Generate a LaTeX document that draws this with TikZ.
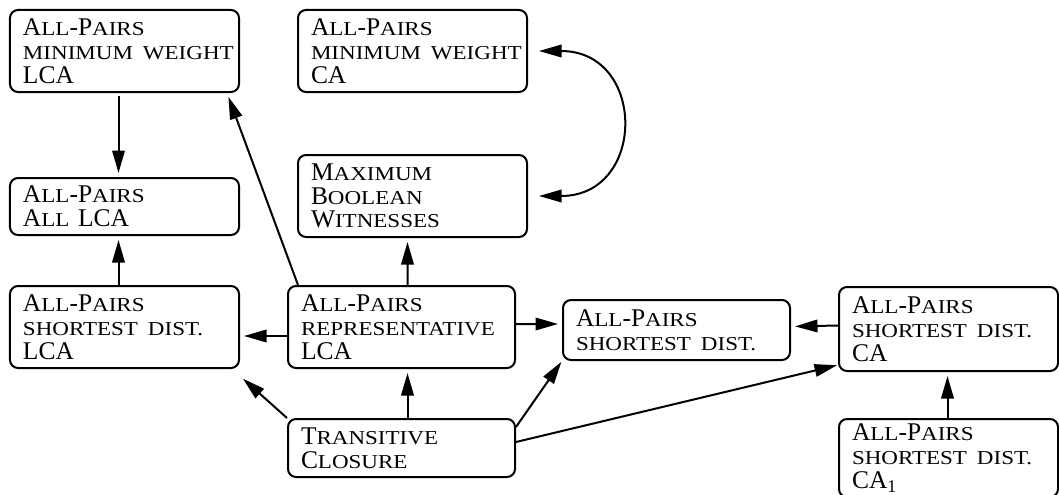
\documentclass[tikz,border=0pt]{standalone}
\usepackage{fontspec}
\setmainfont{Liberation Serif}
\newcommand\smc[1]{\scalebox{1.17}[1]{\fontsize{11.2}{13.5}\selectfont #1}}
\usetikzlibrary{arrows.meta,positioning,calc}

\begin{document}
\begin{tikzpicture}[>={Triangle[length=0.45cm,width=0.25cm]}, line join=round,
    box/.style={draw, line width=0.04cm, rounded corners=0.16cm, anchor=north west,
      align=left, text width=#1, inner xsep=0.26cm, inner ysep=0.1cm,
      font=\fontsize{14.5}{13.5}\selectfont},
    box/.default=4.06cm,
    arr/.style={->, line width=0.04cm, shorten >=0.08cm}]

\useasboundingbox (0,0) rectangle (21.18,-9.9);

\node[box, minimum height=1.64cm] (apmwlca) at (0.18,-0.18)
  {A\smc{LL}-P\smc{AIRS}\\\smc{MINIMUM WEIGHT}\\LCA};
\node[box, minimum height=1.64cm] (apmwca) at (5.94,-0.18)
  {A\smc{LL}-P\smc{AIRS}\\\smc{MINIMUM WEIGHT}\\CA};
\node[box, minimum height=1.14cm] (apall) at (0.18,-3.54)
  {A\smc{LL}-P\smc{AIRS}\\A\smc{LL} LCA};
\node[box, minimum height=1.64cm] (mbw) at (5.94,-3.08)
  {M\smc{AXIMUM}\\B\smc{OOLEAN}\\W\smc{ITNESSES}};
\node[box, minimum height=1.64cm] (apsdlca) at (0.18,-5.7)
  {A\smc{LL}-P\smc{AIRS}\\\smc{SHORTEST DIST.}\\LCA};
\node[box=4.02cm, minimum height=1.64cm] (aprep) at (5.74,-5.7)
  {A\smc{LL}-P\smc{AIRS}\\\smc{REPRESENTATIVE}\\LCA};
\node[box=4.02cm, minimum height=1.2cm] (apsd) at (11.24,-5.98)
  {A\smc{LL}-P\smc{AIRS}\\\smc{SHORTEST DIST.}};
\node[box=3.86cm, minimum height=1.68cm] (apsdca) at (16.76,-5.72)
  {A\smc{LL}-P\smc{AIRS}\\\smc{SHORTEST DIST.}\\CA};
\node[box=4.02cm, minimum height=1.16cm] (tc) at (5.74,-8.36)
  {T\smc{RANSITIVE}\\C\smc{LOSURE}};
\node[box=3.86cm, minimum height=1.56cm] (apsdcaone) at (16.76,-8.36)
  {A\smc{LL}-P\smc{AIRS}\\\smc{SHORTEST DIST.}\\CA\textsubscript{1}};

% reductions
\draw[arr, shorten <=0.06cm] ([xshift=-0.12cm]apmwlca.south) -- ([xshift=-0.12cm]apall.north);
\draw[arr] ([xshift=-0.12cm]apsdlca.north) -- ([xshift=-0.12cm]apall.south);
\draw[arr] ([xshift=0.22cm]aprep.north west) -- ([xshift=-0.26cm]apmwlca.south east);
\draw[arr] ([xshift=0.12cm]aprep.north) -- ([xshift=-0.1cm]mbw.south);
\draw[arr] ([yshift=-0.18cm]aprep.west) -- ([yshift=-0.18cm]apsdlca.east);
\draw[arr] ([yshift=0.06cm]aprep.east) -- ([yshift=0.12cm]apsd.west);
\draw[arr] ([yshift=0.07cm]apsdca.west) -- ([yshift=0.07cm]apsd.east);
\draw[arr] (tc.north west) -- ([yshift=-0.14cm]apsdlca.south east);
\draw[arr] ([xshift=0.12cm]tc.north) -- ([xshift=0.12cm]aprep.south);
\draw[arr, shorten >=0.02cm] ([yshift=-0.18cm]tc.north east) -- (apsd.south west);
\draw[arr, shorten >=0.02cm] ([yshift=0.12cm]tc.east) -- ([yshift=0.14cm]apsdca.south west);
\draw[arr] ([xshift=-0.02cm]apsdcaone.north) -- ([xshift=-0.02cm]apsdca.south);
\draw[<->, line width=0.04cm, shorten >=0.22cm, shorten <=0.22cm]
  (apmwca.east) to[out=0, in=0, looseness=2.1] (mbw.east);

\end{tikzpicture}
\end{document}
